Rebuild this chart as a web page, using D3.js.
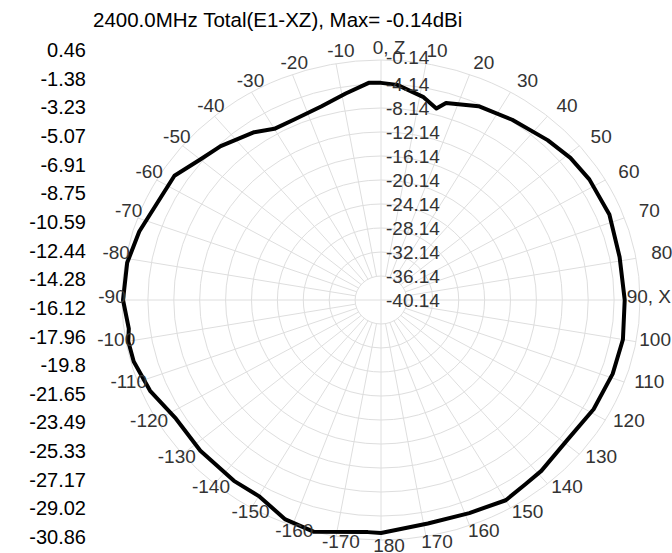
<!DOCTYPE html>
<html>
<head>
<meta charset="utf-8">
<script src="https://cdn.jsdelivr.net/npm/d3@7"></script>
<style>
  body { margin: 0; background: #fff; }
  svg { display: block; font-family: "Liberation Sans", Arial, sans-serif; }
</style>
</head>
<body>
<div id="chart"></div>
<script>
// pattern: angle (deg, 0 = Z, 90 = X) and gain (dBi)
const angles = [-180, -177, -165, -158, -150, -143, -132, -122, -113, -105, -100, -97, -90, -81, -73,
  -57, -50, -44, -35, -30, -24, -16, -9, -3, 0, 4, 11, 15, 17, 25, 34, 44, 51, 58, 68, 79, 90,
  100, 109, 119, 129, 139, 144, 150, 159, 169];
const gains = [-1.3, -1.4, -0.14, -0.7, -2.4, -2.4, -2.6, -2.8, -1.4, -0.6, -0.5, -0.9, -0.3, -0.45, -1.1,
  -2.1, -3.7, -4.5, -6.0, -7.2, -7.2, -6.6, -5.3, -3.9, -3.95, -4.2, -5.7, -7.1, -5.8, -4.5, -3.9, -3.1, -2.5, -2.2, -2.1, -2.6, -2.5,
  -2.2, -2.3, -2.6, -3.1, -2.4, -2.2, -1.6, -2.1, -2.2];

const ringTicks = [-0.14, -4.14, -8.14, -12.14, -16.14, -20.14, -24.14, -28.14, -32.14, -36.14, -40.14];
const angleTicks = d3.range(-170, 181, 10);
const legendLabels = ["0.46", "-1.38", "-3.23", "-5.07", "-6.91", "-8.75", "-10.59", "-12.44", "-14.28",
  "-16.12", "-17.96", "-19.8", "-21.65", "-23.49", "-25.33", "-27.17", "-29.02", "-30.86"];
const title = "2400.0MHz Total(E1-XZ), Max= -0.14dBi";

const width = 672, height = 553;
const cx = 381, cy = 300, rx = 259, ry = 240;

const svg = d3.select("#chart").append("svg")
  .attr("width", width).attr("height", height);

const rScale = d3.scaleLinear().domain([-40.14, -0.14]).range([0, 1]);
const toRad = (a) => a * Math.PI / 180;
const px = (a, r) => cx + rx * r * Math.sin(toRad(a));
const py = (a, r) => cy - ry * r * Math.cos(toRad(a));

// grid rings
const grid = svg.append("g").attr("stroke", "#dedede").attr("fill", "none").attr("stroke-width", 1);
grid.selectAll("ellipse").data(ringTicks.slice(0, -1)).enter().append("ellipse")
  .attr("cx", cx).attr("cy", cy)
  .attr("rx", (d) => rx * rScale(d))
  .attr("ry", (d) => ry * rScale(d));

// spokes, main axes go through the centre
grid.selectAll("line").data(d3.range(0, 360, 10)).enter().append("line")
  .attr("x1", (d) => px(d, d % 90 === 0 ? 0 : 0.1))
  .attr("y1", (d) => py(d, d % 90 === 0 ? 0 : 0.1))
  .attr("x2", (d) => px(d, 1))
  .attr("y2", (d) => py(d, 1));

// pattern
const pts = angles.map((a, i) => [a, gains[i]]);
const line = d3.line()
  .x((d) => px(d[0], rScale(d[1])))
  .y((d) => py(d[0], rScale(d[1])))
  .curve(d3.curveLinearClosed);
svg.append("path").datum(pts)
  .attr("d", line)
  .attr("fill", "none")
  .attr("stroke", "#000")
  .attr("stroke-width", 4)
  .attr("stroke-linejoin", "round");

// ring value labels
svg.append("g").selectAll("text").data(ringTicks).enter().append("text")
  .attr("x", cx + 5)
  .attr("y", (d, i) => py(0, rScale(d)) - (i === 0 ? 3 : 0))
  .attr("dy", "0.35em")
  .attr("font-size", 19)
  .attr("fill", "#333")
  .text((d) => d.toFixed(2));

// angle labels
const lcx = 389, lcy = 296, lrx = 277, lry = 249;
svg.append("g").selectAll("text").data(angleTicks).enter().append("text")
  .attr("x", (d) => d === 90 || d === 100 ? width - 1 : lcx + lrx * Math.sin(toRad(d)))
  .attr("y", (d) => lcy - lry * Math.cos(toRad(d)))
  .attr("dy", "0.35em")
  .attr("text-anchor", (d) => d === 90 || d === 100 ? "end" : "middle")
  .attr("font-size", 19)
  .attr("fill", "#333")
  .text((d) => d === 0 ? "0, Z" : d === 90 ? "90, X" : d);

// left value column
svg.append("g").selectAll("text").data(legendLabels).enter().append("text")
  .attr("x", 86)
  .attr("y", (d, i) => 50 + i * 28.65)
  .attr("dy", "0.35em")
  .attr("text-anchor", "end")
  .attr("font-size", 20)
  .attr("fill", "#000")
  .text((d) => d);

svg.append("text")
  .attr("x", 93).attr("y", 27)
  .attr("font-size", 20.5)
  .attr("fill", "#000")
  .text(title);
</script>
</body>
</html>
